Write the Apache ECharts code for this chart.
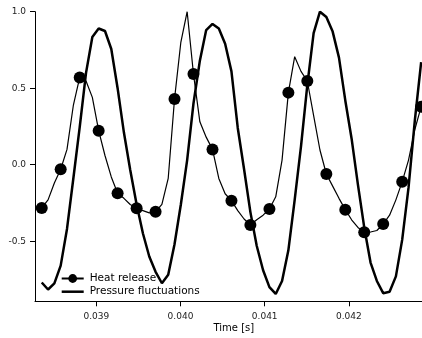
<!DOCTYPE html>
<html>
<head>
<meta charset="utf-8">
<script src="https://cdn.jsdelivr.net/npm/echarts@6/dist/echarts.min.js"></script>
<style>
  html, body { margin: 0; padding: 0; background: #fff; }
  #chart { width: 422px; height: 338px; }
</style>
</head>
<body>
<div id="chart"></div>
<script>
// sample times [s]
const times = [
  0.038352, 0.038427, 0.038502, 0.038577, 0.038652, 0.038728, 0.038803, 0.038878, 0.038953, 0.039028,
  0.039103, 0.039178, 0.039253, 0.039328, 0.039403, 0.039479, 0.039554, 0.039629, 0.039704, 0.039779,
  0.039854, 0.039929, 0.040004, 0.040079, 0.040154, 0.040230, 0.040305, 0.040380, 0.040455, 0.040530,
  0.040605, 0.040680, 0.040755, 0.040830, 0.040905, 0.040981, 0.041056, 0.041131, 0.041206, 0.041281,
  0.041356, 0.041431, 0.041506, 0.041581, 0.041656, 0.041732, 0.041807, 0.041882, 0.041957, 0.042032,
  0.042107, 0.042182, 0.042257, 0.042332, 0.042407, 0.042483, 0.042558, 0.042633, 0.042708, 0.042783,
  0.042858
];

const heatRelease = [
  -0.283, -0.23, -0.12, -0.03, 0.10, 0.39, 0.57, 0.547, 0.44, 0.222,
  0.06, -0.08, -0.187, -0.22, -0.26, -0.285, -0.30, -0.315, -0.307, -0.26,
  -0.09, 0.429, 0.80, 1.0, 0.593, 0.28, 0.18, 0.10, -0.09, -0.19,
  -0.235, -0.30, -0.355, -0.394, -0.36, -0.33, -0.29, -0.21, 0.03, 0.471,
  0.706, 0.61, 0.547, 0.32, 0.096, -0.061, -0.14, -0.22, -0.294, -0.36,
  -0.41, -0.442, -0.44, -0.43, -0.388, -0.33, -0.23, -0.111, 0.03, 0.23,
  0.379
];

const pressure = [
  -0.77, -0.816, -0.776, -0.66, -0.42, -0.087, 0.246, 0.60, 0.835, 0.89,
  0.874, 0.756, 0.50, 0.21, -0.035, -0.26, -0.45, -0.60, -0.70, -0.775,
  -0.72, -0.52, -0.26, 0.03, 0.40, 0.68, 0.88, 0.92, 0.89, 0.79,
  0.61, 0.24, -0.03, -0.31, -0.53, -0.69, -0.80, -0.845, -0.76, -0.56,
  -0.23, 0.12, 0.52, 0.86, 1.0, 0.965, 0.87, 0.70, 0.42, 0.17,
  -0.13, -0.41, -0.64, -0.76, -0.84, -0.83, -0.73, -0.49, -0.15, 0.29,
  0.67
];

const xTicks = [0.039, 0.040, 0.041, 0.042];
const yTicks = [-0.5, 0.0, 0.5, 1.0];

const markerEvery = 3; // heat release marker drawn on every 3rd sample

const FONT = 'DejaVu Sans';

const chart = echarts.init(document.getElementById('chart'), null, { renderer: 'canvas' });

const option = {
  animation: false,
  backgroundColor: '#fff',
  grid: { left: 35, right: 0, top: 11.7, bottom: 36.7, containLabel: false },
  legend: {
    data: [
      { name: 'Heat release' },
      // plain thick line, no marker
      { name: 'Pressure fluctuations', icon: 'path://M0,0H22V2.5H0Z' }
    ],
    orient: 'vertical',
    left: 55.7,
    top: 268,
    itemWidth: 22,
    itemHeight: 11,
    itemGap: 2.2,
    textStyle: { fontFamily: FONT, fontSize: 10.5, color: '#000', padding: [0, 0, 0, 1] }
  },
  xAxis: {
    type: 'value',
    min: 0.038272,
    max: 0.042868,
    splitLine: { show: false },
    axisLine: { show: true, onZero: false, lineStyle: { color: '#000', width: 1 } },
    axisTick: { show: true, length: 5, customValues: xTicks, lineStyle: { color: '#000' } },
    axisLabel: {
      customValues: xTicks,
      margin: 11,
      fontFamily: FONT,
      fontSize: 9,
      color: '#222',
      formatter: v => v.toFixed(3)
    }
  },
  yAxis: {
    type: 'value',
    min: -0.893,
    max: 1.0,
    splitLine: { show: false },
    axisLine: { show: true, onZero: false, lineStyle: { color: '#000', width: 1 } },
    axisTick: { show: true, length: 5, customValues: yTicks, lineStyle: { color: '#000' } },
    axisLabel: {
      customValues: yTicks,
      margin: 9,
      fontFamily: FONT,
      fontSize: 9,
      color: '#222',
      formatter: v => v.toFixed(1)
    }
  },
  graphic: [{
    type: 'text',
    left: 213.5,
    top: 323,
    style: { text: 'Time [s]', font: '10px "DejaVu Sans"', fill: '#000' }
  }],
  series: [
    {
      name: 'Pressure fluctuations',
      type: 'line',
      symbol: 'none',
      lineStyle: { color: '#000', width: 2.5 },
      itemStyle: { color: '#000' },
      data: times.map((t, i) => [t, pressure[i]]),
      z: 2
    },
    {
      name: 'Heat release',
      type: 'line',
      symbol: 'circle',
      symbolSize: 12,
      lineStyle: { color: '#000', width: 1.2 },
      itemStyle: { color: '#000', borderWidth: 0 },
      data: times.map((t, i) => ({
        value: [t, heatRelease[i]],
        symbol: i % markerEvery === 0 ? 'circle' : 'none'
      })),
      z: 3
    }
  ]
};

chart.setOption(option);
</script>
</body>
</html>
